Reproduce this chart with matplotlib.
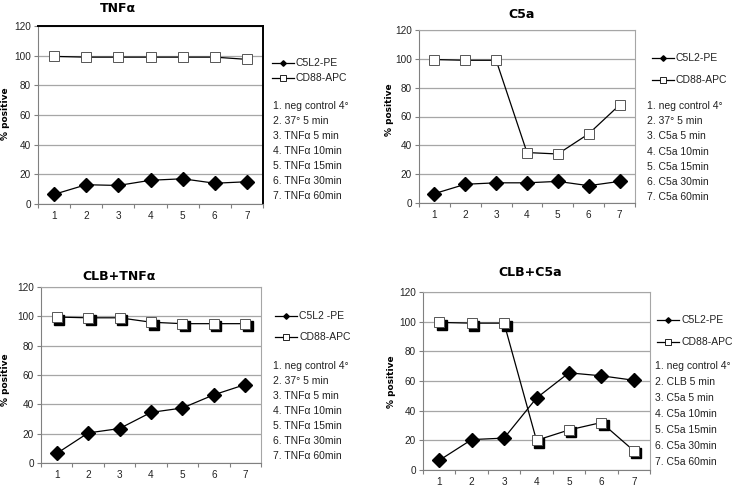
#!/usr/bin/env python

import matplotlib
matplotlib.use("Agg")
import matplotlib.pyplot as plt
import matplotlib.transforms as mtransforms
from matplotlib.lines import Line2D

# sample index on the x axis
points = [1, 2, 3, 4, 5, 6, 7]

# % positive cells
tnf_c5l2 = [6.5, 13, 12.5, 16, 17, 14, 15]
tnf_cd88 = [99.5, 99, 99, 99, 99, 99, 97.5]

c5a_c5l2 = [6.5, 13, 14, 14, 15, 12, 15]
c5a_cd88 = [99.5, 99, 99, 35, 34, 48, 68]

clb_tnf_c5l2 = [6.5, 20.5, 23.5, 34.5, 37.5, 46.5, 53.5]
clb_tnf_cd88 = [99.5, 99, 99, 96, 95, 95, 95]

clb_c5a_c5l2 = [6.5, 20.5, 21.5, 48.5, 65.5, 63.5, 60.5]
clb_c5a_cd88 = [99.5, 99, 99, 20, 27, 32, 13]

titles = ["TNF\u03b1", "C5a", "CLB+TNF\u03b1", "CLB+C5a"]
series_names = [["C5L2-PE", "CD88-APC"], ["C5L2-PE", "CD88-APC"],
                ["C5L2 -PE", "CD88-APC"], ["C5L2-PE", "CD88-APC"]]
conditions = [
    ["1. neg control 4\u00b0", "2. 37\u00b0 5 min", "3. TNF\u03b1 5 min",
     "4. TNF\u03b1 10min", "5. TNF\u03b1 15min", "6. TNF\u03b1 30min",
     "7. TNF\u03b1 60min"],
    ["1. neg control 4\u00b0", "2. 37\u00b0 5 min", "3. C5a 5 min",
     "4. C5a 10min", "5. C5a 15min", "6. C5a 30min", "7. C5a 60min"],
    ["1. neg control 4\u00b0", "2. 37\u00b0 5 min", "3. TNF\u03b1 5 min",
     "4. TNF\u03b1 10min", "5. TNF\u03b1 15min", "6. TNF\u03b1 30min",
     "7. TNF\u03b1 60min"],
    ["1. neg control 4\u00b0", "2. CLB 5 min", "3. C5a 5 min",
     "4. C5a 10min", "5. C5a 15min", "6. C5a 30min", "7. C5a 60min"],
]

W, H = 733, 487


def fx(x):
    return x / W


def fy(y):
    return 1 - y / H


def panel(fig, box, c5l2, cd88, frame_color, shadow=False):
    """Draw one Excel style line chart. box is (x0, y_top, x1, y_bottom) in px."""
    x0, yt, x1, yb = box
    ax = fig.add_axes([fx(x0), fy(yb), fx(x1 - x0), (yb - yt) / H])

    ax.set_xlim(0.5, 7.5)
    ax.set_ylim(0, 120)
    ax.set_yticks(range(0, 121, 20))
    ax.yaxis.grid(True, color="#a6a6a6", linewidth=0.9)
    ax.set_axisbelow(True)

    ax.set_xticks([i + 0.5 for i in range(0, 8)])
    ax.set_xticklabels([])
    ax.set_xticks(points, minor=True)
    ax.set_xticklabels([str(p) for p in points], minor=True)
    ax.tick_params(axis="x", which="major", length=3, color="#808080", width=0.8)
    ax.tick_params(axis="x", which="minor", length=0, pad=5, labelsize=7.2)
    ax.tick_params(axis="y", length=3, color="#808080", width=0.8, labelsize=7.2,
                   pad=2)
    for lab in ax.get_xticklabels(minor=True) + ax.get_yticklabels():
        lab.set_family("Liberation Sans")
        lab.set_color("#222222")

    for side in ["top", "right"]:
        ax.spines[side].set_color(frame_color)
    ax.spines["left"].set_color("#808080")
    ax.spines["bottom"].set_color("#808080")
    if frame_color == "black":
        for side in ["top", "right"]:
            ax.spines[side].set_linewidth(1.4)

    ax.plot(points, c5l2, color="black", linewidth=0.9, marker="D",
            markersize=7.5, markerfacecolor="black", markeredgecolor="black",
            zorder=3)
    if shadow:
        off = mtransforms.offset_copy(ax.transData, fig=fig, x=2.5, y=-2.5,
                                      units="dots")
        ax.plot(points, cd88, linestyle="none", marker="s", markersize=6.8,
                markerfacecolor="black", markeredgecolor="black",
                transform=off, zorder=4)
    ax.plot(points, cd88, color="black", linewidth=0.9, marker="s",
            markersize=6.8, markerfacecolor="white", markeredgecolor="#555555",
            markeredgewidth=0.7, zorder=5)
    return ax


def legend(fig, x, rows, names, lx, list_rows, items):
    """Hand drawn legend at pixel positions, like the Excel original."""
    styles = [dict(marker="D", markersize=2.8, markerfacecolor="black",
                   markeredgecolor="black"),
              dict(marker="s", markersize=4, markerfacecolor="white",
                   markeredgecolor="black", markeredgewidth=0.6)]
    for y, name, st in zip(rows, names, styles):
        fig.add_artist(Line2D([fx(x), fx(x + 22)], [fy(y), fy(y)],
                              color="black", linewidth=0.9,
                              transform=fig.transFigure))
        fig.add_artist(Line2D([fx(x + 11)], [fy(y)], linestyle="none",
                              transform=fig.transFigure, **st))
        fig.text(fx(x + 24), fy(y), name, fontsize=7.5, va="center",
                 family="Liberation Sans", color="#222222")
    for y, item in zip(list_rows, items):
        fig.text(fx(lx), fy(y), item, fontsize=7.5, va="center",
                 family="Liberation Sans", color="#222222")


fig = plt.figure(figsize=(W / 100, H / 100), dpi=100)

boxes = [(38, 26, 263, 204), (419, 30, 635, 203),
         (41, 287, 261, 463), (423, 292, 650, 470)]
frames = ["black", "#a6a6a6", "#a6a6a6", "#a6a6a6"]
data = [(tnf_c5l2, tnf_cd88), (c5a_c5l2, c5a_cd88),
        (clb_tnf_c5l2, clb_tnf_cd88), (clb_c5a_c5l2, clb_c5a_cd88)]
shadows = [False, False, True, True]

for box, frame, (a, b), sh in zip(boxes, frames, data, shadows):
    panel(fig, box, a, b, frame, shadow=sh)

# titles and y labels
title_pos = [(118, 9), (522, 14), (119, 277), (530, 273)]
ylab_pos = [(6, 114), (390, 110), (6, 380), (391, 382)]
for t, (tx, ty), (yx, yy) in zip(titles, title_pos, ylab_pos):
    fig.text(fx(tx), fy(ty), t, fontsize=9, fontweight="bold", ha="center",
             va="center")
    fig.text(fx(yx), fy(yy), "% positive", fontsize=6.5, fontweight="bold",
             rotation=90, ha="center", va="center")

# legends
legend(fig, 272, [63, 78], series_names[0], 273,
       [106 + 15 * i for i in range(7)], conditions[0])
legend(fig, 652, [58, 80], series_names[1], 647,
       [106 + 15.2 * i for i in range(7)], conditions[1])
legend(fig, 275, [316, 337], series_names[2], 273,
       [366 + 15 * i for i in range(7)], conditions[2])
legend(fig, 657, [320, 342], series_names[3], 655,
       [366 + 16 * i for i in range(7)], conditions[3])

fig.savefig("out.png", dpi=100)
